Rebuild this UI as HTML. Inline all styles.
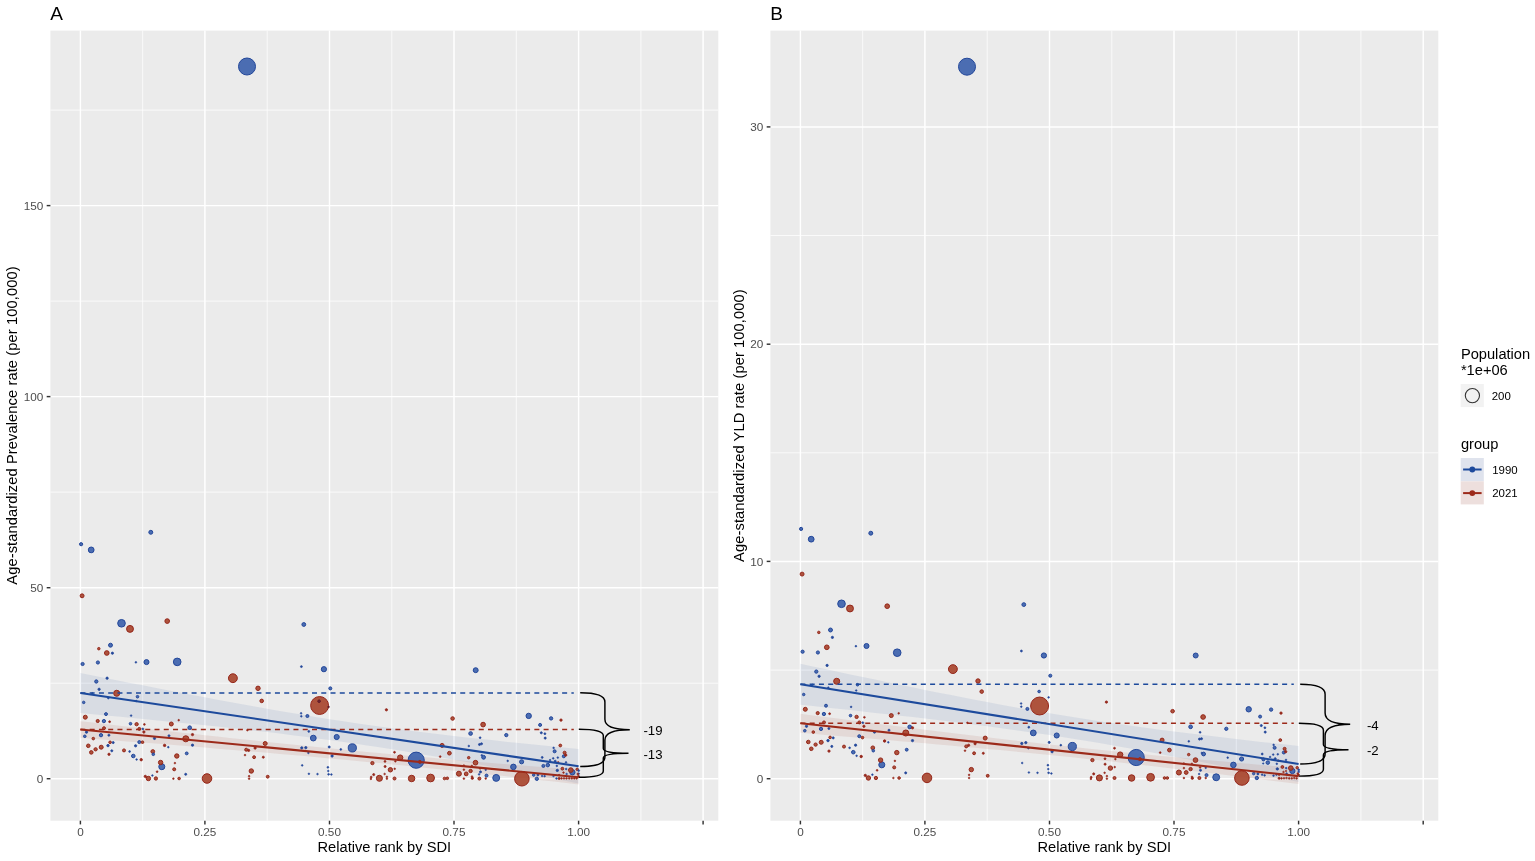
<!DOCTYPE html><html><head><meta charset="utf-8"><title>Figure</title>
<style>html,body{margin:0;padding:0;background:#fff}svg{display:block}text{font-family:"Liberation Sans",Arial,sans-serif}</style></head><body>
<svg width="1535" height="861" viewBox="0 0 1535 861">
<rect width="1535" height="861" fill="#fff"/>
<g>
<rect x="50.4" y="30.6" width="667.9" height="790.1" fill="#ebebeb"/>
<line x1="142.7" x2="142.7" y1="30.6" y2="820.7" stroke="#fff" stroke-width="0.75"/>
<line x1="267.2" x2="267.2" y1="30.6" y2="820.7" stroke="#fff" stroke-width="0.75"/>
<line x1="391.8" x2="391.8" y1="30.6" y2="820.7" stroke="#fff" stroke-width="0.75"/>
<line x1="516.3" x2="516.3" y1="30.6" y2="820.7" stroke="#fff" stroke-width="0.75"/>
<line x1="640.9" x2="640.9" y1="30.6" y2="820.7" stroke="#fff" stroke-width="0.75"/>
<line x1="50.4" x2="718.3" y1="683.2" y2="683.2" stroke="#fff" stroke-width="0.75"/>
<line x1="50.4" x2="718.3" y1="492.1" y2="492.1" stroke="#fff" stroke-width="0.75"/>
<line x1="50.4" x2="718.3" y1="301.1" y2="301.1" stroke="#fff" stroke-width="0.75"/>
<line x1="50.4" x2="718.3" y1="110.1" y2="110.1" stroke="#fff" stroke-width="0.75"/>
<line x1="80.4" x2="80.4" y1="30.6" y2="820.7" stroke="#fff" stroke-width="1.45"/>
<line x1="204.9" x2="204.9" y1="30.6" y2="820.7" stroke="#fff" stroke-width="1.45"/>
<line x1="329.5" x2="329.5" y1="30.6" y2="820.7" stroke="#fff" stroke-width="1.45"/>
<line x1="454.0" x2="454.0" y1="30.6" y2="820.7" stroke="#fff" stroke-width="1.45"/>
<line x1="578.6" x2="578.6" y1="30.6" y2="820.7" stroke="#fff" stroke-width="1.45"/>
<line x1="703.1" x2="703.1" y1="30.6" y2="820.7" stroke="#fff" stroke-width="1.45"/>
<line x1="50.4" x2="718.3" y1="778.7" y2="778.7" stroke="#fff" stroke-width="1.45"/>
<line x1="50.4" x2="718.3" y1="587.7" y2="587.7" stroke="#fff" stroke-width="1.45"/>
<line x1="50.4" x2="718.3" y1="396.6" y2="396.6" stroke="#fff" stroke-width="1.45"/>
<line x1="50.4" x2="718.3" y1="205.6" y2="205.6" stroke="#fff" stroke-width="1.45"/>
<path d="M80.4,673.0 L92.9,675.5 L105.3,678.0 L117.8,680.4 L130.2,682.9 L142.7,685.3 L155.1,687.8 L167.6,690.2 L180.0,692.6 L192.5,695.0 L204.9,697.3 L217.4,699.7 L229.9,702.0 L242.3,704.3 L254.8,706.5 L267.2,708.8 L279.7,710.9 L292.1,713.1 L304.6,715.1 L317.0,717.2 L329.5,719.2 L342.0,721.1 L354.4,723.0 L366.9,724.8 L379.3,726.5 L391.8,728.2 L404.2,729.9 L416.7,731.5 L429.1,733.0 L441.6,734.5 L454.0,736.0 L466.5,737.4 L479.0,738.8 L491.4,740.1 L503.9,741.5 L516.3,742.8 L528.8,744.0 L541.2,745.3 L553.7,746.6 L566.1,747.8 L578.6,749.0 L578.6,783.4 L566.1,781.0 L553.7,778.5 L541.2,776.1 L528.8,773.7 L516.3,771.3 L503.9,769.0 L491.4,766.7 L479.0,764.4 L466.5,762.1 L454.0,759.8 L441.6,757.6 L429.1,755.5 L416.7,753.4 L404.2,751.3 L391.8,749.3 L379.3,747.3 L366.9,745.4 L354.4,743.6 L342.0,741.8 L329.5,740.0 L317.0,738.4 L304.6,736.7 L292.1,735.2 L279.7,733.6 L267.2,732.1 L254.8,730.7 L242.3,729.3 L229.9,727.9 L217.4,726.6 L204.9,725.3 L192.5,724.0 L180.0,722.7 L167.6,721.4 L155.1,720.2 L142.7,719.0 L130.2,717.7 L117.8,716.5 L105.3,715.4 L92.9,714.2 L80.4,713.0Z" fill="#1d4a9c" fill-opacity="0.09"/>
<path d="M80.4,721.2 L92.9,722.6 L105.3,724.0 L117.8,725.5 L130.2,726.9 L142.7,728.3 L155.1,729.7 L167.6,731.1 L180.0,732.5 L192.5,733.8 L204.9,735.2 L217.4,736.6 L229.9,737.9 L242.3,739.3 L254.8,740.6 L267.2,741.9 L279.7,743.2 L292.1,744.5 L304.6,745.8 L317.0,747.1 L329.5,748.3 L342.0,749.5 L354.4,750.7 L366.9,751.9 L379.3,753.1 L391.8,754.3 L404.2,755.4 L416.7,756.5 L429.1,757.6 L441.6,758.7 L454.0,759.8 L466.5,760.9 L479.0,761.9 L491.4,763.0 L503.9,764.0 L516.3,765.0 L528.8,766.0 L541.2,767.0 L553.7,768.0 L566.1,769.0 L578.6,770.0 L578.6,784.4 L566.1,783.0 L553.7,781.6 L541.2,780.2 L528.8,778.8 L516.3,777.5 L503.9,776.1 L491.4,774.7 L479.0,773.4 L466.5,772.1 L454.0,770.7 L441.6,769.4 L429.1,768.2 L416.7,766.9 L404.2,765.6 L391.8,764.4 L379.3,763.1 L366.9,761.9 L354.4,760.7 L342.0,759.6 L329.5,758.4 L317.0,757.3 L304.6,756.1 L292.1,755.0 L279.7,753.9 L267.2,752.8 L254.8,751.8 L242.3,750.7 L229.9,749.7 L217.4,748.7 L204.9,747.6 L192.5,746.6 L180.0,745.6 L167.6,744.6 L155.1,743.6 L142.7,742.6 L130.2,741.7 L117.8,740.7 L105.3,739.7 L92.9,738.8 L80.4,737.8Z" fill="#9c2a1a" fill-opacity="0.09"/>
<g>
<circle cx="319.6" cy="705.5" r="8.96" fill="#a8452e" fill-opacity="0.92" stroke="#95261a" stroke-width="1.00"/>
<circle cx="247.0" cy="66.5" r="8.50" fill="#3d62ad" fill-opacity="0.92" stroke="#23479a" stroke-width="1.00"/>
<circle cx="416.2" cy="760.2" r="8.09" fill="#3d62ad" fill-opacity="0.92" stroke="#23479a" stroke-width="1.00"/>
<circle cx="521.9" cy="778.7" r="7.30" fill="#a8452e" fill-opacity="0.92" stroke="#95261a" stroke-width="1.00"/>
<circle cx="207.0" cy="778.5" r="4.78" fill="#a8452e" fill-opacity="0.92" stroke="#95261a" stroke-width="1.00"/>
<circle cx="232.9" cy="678.2" r="4.43" fill="#a8452e" fill-opacity="0.92" stroke="#95261a" stroke-width="1.00"/>
<circle cx="352.3" cy="747.9" r="4.08" fill="#3d62ad" fill-opacity="0.92" stroke="#23479a" stroke-width="1.00"/>
<circle cx="430.6" cy="778.0" r="3.87" fill="#a8452e" fill-opacity="0.92" stroke="#95261a" stroke-width="1.00"/>
<circle cx="121.5" cy="623.3" r="3.82" fill="#3d62ad" fill-opacity="0.92" stroke="#23479a" stroke-width="1.00"/>
<circle cx="177.2" cy="661.9" r="3.82" fill="#3d62ad" fill-opacity="0.92" stroke="#23479a" stroke-width="1.00"/>
<circle cx="130.0" cy="628.9" r="3.45" fill="#a8452e" fill-opacity="0.92" stroke="#95261a" stroke-width="1.00"/>
<circle cx="496.2" cy="777.9" r="3.45" fill="#3d62ad" fill-opacity="0.92" stroke="#23479a" stroke-width="1.00"/>
<circle cx="411.6" cy="778.5" r="3.24" fill="#a8452e" fill-opacity="0.92" stroke="#95261a" stroke-width="1.00"/>
<circle cx="116.7" cy="693.3" r="3.03" fill="#a8452e" fill-opacity="0.92" stroke="#95261a" stroke-width="1.00"/>
<circle cx="161.8" cy="766.7" r="3.03" fill="#3d62ad" fill-opacity="0.92" stroke="#23479a" stroke-width="1.00"/>
<circle cx="185.8" cy="738.8" r="3.03" fill="#a8452e" fill-opacity="0.92" stroke="#95261a" stroke-width="1.00"/>
<circle cx="379.4" cy="778.3" r="3.03" fill="#a8452e" fill-opacity="0.92" stroke="#95261a" stroke-width="1.00"/>
<circle cx="91.2" cy="549.9" r="2.89" fill="#3d62ad" fill-opacity="0.92" stroke="#23479a" stroke-width="1.00"/>
<circle cx="313.3" cy="738.1" r="2.89" fill="#3d62ad" fill-opacity="0.92" stroke="#23479a" stroke-width="1.00"/>
<circle cx="513.4" cy="766.9" r="2.78" fill="#3d62ad" fill-opacity="0.92" stroke="#23479a" stroke-width="1.00"/>
<circle cx="400.2" cy="757.6" r="2.69" fill="#a8452e" fill-opacity="0.92" stroke="#95261a" stroke-width="1.00"/>
<circle cx="528.7" cy="715.9" r="2.69" fill="#3d62ad" fill-opacity="0.92" stroke="#23479a" stroke-width="1.00"/>
<circle cx="572.4" cy="772.3" r="2.62" fill="#3d62ad" fill-opacity="0.92" stroke="#23479a" stroke-width="1.00"/>
<circle cx="323.9" cy="669.2" r="2.60" fill="#3d62ad" fill-opacity="0.92" stroke="#23479a" stroke-width="1.00"/>
<circle cx="336.7" cy="737.0" r="2.55" fill="#3d62ad" fill-opacity="0.92" stroke="#23479a" stroke-width="1.00"/>
<circle cx="146.5" cy="662.1" r="2.52" fill="#3d62ad" fill-opacity="0.92" stroke="#23479a" stroke-width="1.00"/>
<circle cx="458.9" cy="773.7" r="2.50" fill="#a8452e" fill-opacity="0.92" stroke="#95261a" stroke-width="1.00"/>
<circle cx="475.7" cy="670.2" r="2.48" fill="#3d62ad" fill-opacity="0.92" stroke="#23479a" stroke-width="1.00"/>
<circle cx="167.2" cy="621.1" r="2.34" fill="#a8452e" fill-opacity="0.92" stroke="#95261a" stroke-width="1.00"/>
<circle cx="106.8" cy="653.0" r="2.34" fill="#a8452e" fill-opacity="0.92" stroke="#95261a" stroke-width="1.00"/>
<circle cx="483.1" cy="724.6" r="2.34" fill="#a8452e" fill-opacity="0.92" stroke="#95261a" stroke-width="1.00"/>
<circle cx="475.5" cy="762.7" r="2.34" fill="#a8452e" fill-opacity="0.92" stroke="#95261a" stroke-width="1.00"/>
<circle cx="570.8" cy="770.1" r="2.34" fill="#a8452e" fill-opacity="0.92" stroke="#95261a" stroke-width="1.00"/>
<circle cx="160.6" cy="762.5" r="2.20" fill="#a8452e" fill-opacity="0.92" stroke="#95261a" stroke-width="1.00"/>
<circle cx="148.4" cy="778.5" r="2.20" fill="#a8452e" fill-opacity="0.92" stroke="#95261a" stroke-width="1.00"/>
<circle cx="258.0" cy="688.3" r="2.20" fill="#a8452e" fill-opacity="0.92" stroke="#95261a" stroke-width="1.00"/>
<circle cx="176.8" cy="756.0" r="2.20" fill="#a8452e" fill-opacity="0.92" stroke="#95261a" stroke-width="1.00"/>
<circle cx="251.3" cy="771.0" r="2.20" fill="#a8452e" fill-opacity="0.92" stroke="#95261a" stroke-width="1.00"/>
<circle cx="390.4" cy="769.8" r="2.20" fill="#a8452e" fill-opacity="0.92" stroke="#95261a" stroke-width="1.00"/>
<circle cx="521.6" cy="761.8" r="2.06" fill="#3d62ad" fill-opacity="0.92" stroke="#23479a" stroke-width="1.00"/>
<circle cx="85.3" cy="717.2" r="1.99" fill="#a8452e" fill-opacity="0.92" stroke="#95261a" stroke-width="1.00"/>
<circle cx="101.2" cy="747.2" r="1.99" fill="#a8452e" fill-opacity="0.92" stroke="#95261a" stroke-width="1.00"/>
<circle cx="171.3" cy="724.0" r="1.99" fill="#a8452e" fill-opacity="0.92" stroke="#95261a" stroke-width="1.00"/>
<circle cx="265.2" cy="743.5" r="1.99" fill="#a8452e" fill-opacity="0.92" stroke="#95261a" stroke-width="1.00"/>
<circle cx="442.1" cy="745.4" r="1.99" fill="#a8452e" fill-opacity="0.92" stroke="#95261a" stroke-width="1.00"/>
<circle cx="150.8" cy="532.3" r="1.97" fill="#3d62ad" fill-opacity="0.92" stroke="#23479a" stroke-width="1.00"/>
<circle cx="82.1" cy="595.8" r="1.97" fill="#a8452e" fill-opacity="0.92" stroke="#95261a" stroke-width="1.00"/>
<circle cx="110.5" cy="645.2" r="1.97" fill="#3d62ad" fill-opacity="0.92" stroke="#23479a" stroke-width="1.00"/>
<circle cx="303.8" cy="624.5" r="1.90" fill="#3d62ad" fill-opacity="0.92" stroke="#23479a" stroke-width="1.00"/>
<circle cx="483.6" cy="757.3" r="1.89" fill="#3d62ad" fill-opacity="0.92" stroke="#23479a" stroke-width="1.00"/>
<circle cx="466.2" cy="773.9" r="1.89" fill="#a8452e" fill-opacity="0.92" stroke="#95261a" stroke-width="1.00"/>
<circle cx="152.8" cy="751.5" r="1.85" fill="#a8452e" fill-opacity="0.92" stroke="#95261a" stroke-width="1.00"/>
<circle cx="189.7" cy="727.7" r="1.85" fill="#3d62ad" fill-opacity="0.92" stroke="#23479a" stroke-width="1.00"/>
<circle cx="449.4" cy="753.2" r="1.85" fill="#a8452e" fill-opacity="0.92" stroke="#95261a" stroke-width="1.00"/>
<circle cx="470.6" cy="733.5" r="1.85" fill="#3d62ad" fill-opacity="0.92" stroke="#23479a" stroke-width="1.00"/>
<circle cx="88.3" cy="745.8" r="1.78" fill="#a8452e" fill-opacity="0.92" stroke="#95261a" stroke-width="1.00"/>
<circle cx="91.3" cy="752.4" r="1.78" fill="#a8452e" fill-opacity="0.92" stroke="#95261a" stroke-width="1.00"/>
<circle cx="133.3" cy="756.0" r="1.78" fill="#3d62ad" fill-opacity="0.92" stroke="#23479a" stroke-width="1.00"/>
<circle cx="261.7" cy="700.9" r="1.78" fill="#a8452e" fill-opacity="0.92" stroke="#95261a" stroke-width="1.00"/>
<circle cx="452.6" cy="718.5" r="1.78" fill="#a8452e" fill-opacity="0.92" stroke="#95261a" stroke-width="1.00"/>
<circle cx="547.8" cy="765.1" r="1.78" fill="#3d62ad" fill-opacity="0.92" stroke="#23479a" stroke-width="1.00"/>
<circle cx="470.6" cy="771.0" r="1.67" fill="#a8452e" fill-opacity="0.92" stroke="#95261a" stroke-width="1.00"/>
<circle cx="536.8" cy="778.8" r="1.67" fill="#3d62ad" fill-opacity="0.92" stroke="#23479a" stroke-width="1.00"/>
<circle cx="551.1" cy="718.4" r="1.67" fill="#3d62ad" fill-opacity="0.92" stroke="#23479a" stroke-width="1.00"/>
<circle cx="96.3" cy="681.5" r="1.64" fill="#3d62ad" fill-opacity="0.92" stroke="#23479a" stroke-width="1.00"/>
<circle cx="103.9" cy="721.1" r="1.64" fill="#3d62ad" fill-opacity="0.92" stroke="#23479a" stroke-width="1.00"/>
<circle cx="136.6" cy="724.2" r="1.64" fill="#a8452e" fill-opacity="0.92" stroke="#95261a" stroke-width="1.00"/>
<circle cx="101.0" cy="735.2" r="1.64" fill="#3d62ad" fill-opacity="0.92" stroke="#23479a" stroke-width="1.00"/>
<circle cx="95.6" cy="749.3" r="1.64" fill="#a8452e" fill-opacity="0.92" stroke="#95261a" stroke-width="1.00"/>
<circle cx="155.9" cy="778.5" r="1.64" fill="#a8452e" fill-opacity="0.92" stroke="#95261a" stroke-width="1.00"/>
<circle cx="372.4" cy="763.1" r="1.64" fill="#a8452e" fill-opacity="0.92" stroke="#95261a" stroke-width="1.00"/>
<circle cx="506.3" cy="735.1" r="1.64" fill="#3d62ad" fill-opacity="0.92" stroke="#23479a" stroke-width="1.00"/>
<circle cx="81.1" cy="544.2" r="1.59" fill="#3d62ad" fill-opacity="0.92" stroke="#23479a" stroke-width="1.00"/>
<circle cx="82.6" cy="664.0" r="1.59" fill="#3d62ad" fill-opacity="0.92" stroke="#23479a" stroke-width="1.00"/>
<circle cx="97.9" cy="662.5" r="1.59" fill="#3d62ad" fill-opacity="0.92" stroke="#23479a" stroke-width="1.00"/>
<circle cx="97.7" cy="721.0" r="1.57" fill="#a8452e" fill-opacity="0.92" stroke="#95261a" stroke-width="1.00"/>
<circle cx="330.3" cy="688.4" r="1.54" fill="#3d62ad" fill-opacity="0.92" stroke="#23479a" stroke-width="1.00"/>
<circle cx="124.0" cy="750.4" r="1.50" fill="#a8452e" fill-opacity="0.92" stroke="#95261a" stroke-width="1.00"/>
<circle cx="139.3" cy="742.1" r="1.50" fill="#3d62ad" fill-opacity="0.92" stroke="#23479a" stroke-width="1.00"/>
<circle cx="174.2" cy="769.3" r="1.50" fill="#a8452e" fill-opacity="0.92" stroke="#95261a" stroke-width="1.00"/>
<circle cx="246.2" cy="749.7" r="1.50" fill="#a8452e" fill-opacity="0.92" stroke="#95261a" stroke-width="1.00"/>
<circle cx="307.4" cy="716.0" r="1.50" fill="#3d62ad" fill-opacity="0.92" stroke="#23479a" stroke-width="1.00"/>
<circle cx="419.8" cy="761.9" r="1.50" fill="#a8452e" fill-opacity="0.92" stroke="#95261a" stroke-width="1.00"/>
<circle cx="394.5" cy="778.5" r="1.50" fill="#a8452e" fill-opacity="0.92" stroke="#95261a" stroke-width="1.00"/>
<circle cx="540.1" cy="724.9" r="1.50" fill="#3d62ad" fill-opacity="0.92" stroke="#23479a" stroke-width="1.00"/>
<circle cx="486.5" cy="775.6" r="1.50" fill="#3d62ad" fill-opacity="0.92" stroke="#23479a" stroke-width="1.00"/>
<circle cx="479.4" cy="778.6" r="1.50" fill="#a8452e" fill-opacity="0.92" stroke="#95261a" stroke-width="1.00"/>
<circle cx="554.6" cy="751.3" r="1.50" fill="#3d62ad" fill-opacity="0.92" stroke="#23479a" stroke-width="1.00"/>
<circle cx="564.6" cy="752.7" r="1.50" fill="#a8452e" fill-opacity="0.92" stroke="#95261a" stroke-width="1.00"/>
<circle cx="563.8" cy="756.3" r="1.50" fill="#3d62ad" fill-opacity="0.92" stroke="#23479a" stroke-width="1.00"/>
<circle cx="543.4" cy="765.9" r="1.50" fill="#3d62ad" fill-opacity="0.92" stroke="#23479a" stroke-width="1.00"/>
<circle cx="106.0" cy="714.1" r="1.47" fill="#3d62ad" fill-opacity="0.92" stroke="#23479a" stroke-width="1.00"/>
<circle cx="104.0" cy="728.2" r="1.47" fill="#a8452e" fill-opacity="0.92" stroke="#95261a" stroke-width="1.00"/>
<circle cx="139.3" cy="728.9" r="1.47" fill="#a8452e" fill-opacity="0.92" stroke="#95261a" stroke-width="1.00"/>
<circle cx="186.7" cy="753.4" r="1.43" fill="#3d62ad" fill-opacity="0.92" stroke="#23479a" stroke-width="1.00"/>
<circle cx="254.1" cy="757.2" r="1.43" fill="#a8452e" fill-opacity="0.92" stroke="#95261a" stroke-width="1.00"/>
<circle cx="267.7" cy="776.7" r="1.43" fill="#a8452e" fill-opacity="0.92" stroke="#95261a" stroke-width="1.00"/>
<circle cx="560.3" cy="745.5" r="1.39" fill="#a8452e" fill-opacity="0.92" stroke="#95261a" stroke-width="1.00"/>
<circle cx="562.4" cy="768.7" r="1.39" fill="#a8452e" fill-opacity="0.92" stroke="#95261a" stroke-width="1.00"/>
<circle cx="137.5" cy="696.7" r="1.30" fill="#3d62ad" fill-opacity="0.92" stroke="#23479a" stroke-width="0.98"/>
<circle cx="130.5" cy="723.7" r="1.30" fill="#3d62ad" fill-opacity="0.92" stroke="#23479a" stroke-width="0.98"/>
<circle cx="84.8" cy="736.3" r="1.30" fill="#3d62ad" fill-opacity="0.92" stroke="#23479a" stroke-width="0.98"/>
<circle cx="93.3" cy="738.6" r="1.30" fill="#a8452e" fill-opacity="0.92" stroke="#95261a" stroke-width="0.98"/>
<circle cx="110.1" cy="742.3" r="1.30" fill="#a8452e" fill-opacity="0.92" stroke="#95261a" stroke-width="0.98"/>
<circle cx="142.5" cy="742.2" r="1.30" fill="#a8452e" fill-opacity="0.92" stroke="#95261a" stroke-width="0.98"/>
<circle cx="153.3" cy="754.3" r="1.30" fill="#3d62ad" fill-opacity="0.92" stroke="#23479a" stroke-width="0.98"/>
<circle cx="179.1" cy="778.5" r="1.30" fill="#a8452e" fill-opacity="0.92" stroke="#95261a" stroke-width="0.98"/>
<circle cx="319.1" cy="701.2" r="1.30" fill="#6e2230" fill-opacity="0.92" stroke="#5e1a28" stroke-width="0.98"/>
<circle cx="444.5" cy="778.5" r="1.30" fill="#a8452e" fill-opacity="0.92" stroke="#95261a" stroke-width="0.98"/>
<circle cx="447.3" cy="778.3" r="1.30" fill="#a8452e" fill-opacity="0.92" stroke="#95261a" stroke-width="0.98"/>
<circle cx="98.8" cy="648.7" r="1.25" fill="#a8452e" fill-opacity="0.92" stroke="#95261a" stroke-width="0.95"/>
<circle cx="83.7" cy="702.4" r="1.25" fill="#3d62ad" fill-opacity="0.92" stroke="#23479a" stroke-width="0.95"/>
<circle cx="468.7" cy="757.7" r="1.25" fill="#a8452e" fill-opacity="0.92" stroke="#95261a" stroke-width="0.95"/>
<circle cx="577.2" cy="769.3" r="1.25" fill="#a8452e" fill-opacity="0.92" stroke="#95261a" stroke-width="0.95"/>
<circle cx="533.7" cy="775.1" r="1.25" fill="#3d62ad" fill-opacity="0.92" stroke="#23479a" stroke-width="0.95"/>
<circle cx="108.0" cy="745.6" r="1.20" fill="#23479a" fill-opacity="1" stroke="#23479a" stroke-width="0.91"/>
<circle cx="141.2" cy="759.7" r="1.20" fill="#95261a" fill-opacity="1" stroke="#95261a" stroke-width="0.91"/>
<circle cx="164.6" cy="745.4" r="1.20" fill="#95261a" fill-opacity="1" stroke="#95261a" stroke-width="0.91"/>
<circle cx="472.3" cy="778.2" r="1.17" fill="#95261a" fill-opacity="1" stroke="#95261a" stroke-width="0.89"/>
<circle cx="565.7" cy="755.1" r="1.17" fill="#95261a" fill-opacity="1" stroke="#95261a" stroke-width="0.89"/>
<circle cx="557.3" cy="770.4" r="1.17" fill="#23479a" fill-opacity="1" stroke="#23479a" stroke-width="0.89"/>
<circle cx="561.0" cy="720.1" r="1.17" fill="#95261a" fill-opacity="1" stroke="#95261a" stroke-width="0.89"/>
<circle cx="107.1" cy="678.2" r="1.15" fill="#23479a" fill-opacity="1" stroke="#23479a" stroke-width="0.87"/>
<circle cx="99.1" cy="689.3" r="1.15" fill="#23479a" fill-opacity="1" stroke="#23479a" stroke-width="0.87"/>
<circle cx="86.5" cy="732.2" r="1.15" fill="#23479a" fill-opacity="1" stroke="#23479a" stroke-width="0.87"/>
<circle cx="143.9" cy="732.0" r="1.15" fill="#95261a" fill-opacity="1" stroke="#95261a" stroke-width="0.87"/>
<circle cx="154.5" cy="738.4" r="1.15" fill="#23479a" fill-opacity="1" stroke="#23479a" stroke-width="0.87"/>
<circle cx="109.0" cy="754.3" r="1.15" fill="#95261a" fill-opacity="1" stroke="#95261a" stroke-width="0.87"/>
<circle cx="135.6" cy="745.8" r="1.15" fill="#23479a" fill-opacity="1" stroke="#23479a" stroke-width="0.87"/>
<circle cx="145.3" cy="776.4" r="1.15" fill="#95261a" fill-opacity="1" stroke="#95261a" stroke-width="0.87"/>
<circle cx="192.5" cy="734.6" r="1.15" fill="#95261a" fill-opacity="1" stroke="#95261a" stroke-width="0.87"/>
<circle cx="192.5" cy="745.2" r="1.15" fill="#23479a" fill-opacity="1" stroke="#23479a" stroke-width="0.87"/>
<circle cx="248.6" cy="750.4" r="1.15" fill="#95261a" fill-opacity="1" stroke="#95261a" stroke-width="0.87"/>
<circle cx="255.1" cy="748.0" r="1.15" fill="#95261a" fill-opacity="1" stroke="#95261a" stroke-width="0.87"/>
<circle cx="301.8" cy="747.9" r="1.15" fill="#23479a" fill-opacity="1" stroke="#23479a" stroke-width="0.87"/>
<circle cx="305.8" cy="747.7" r="1.15" fill="#23479a" fill-opacity="1" stroke="#23479a" stroke-width="0.87"/>
<circle cx="332.1" cy="756.0" r="1.15" fill="#23479a" fill-opacity="1" stroke="#23479a" stroke-width="0.87"/>
<circle cx="386.4" cy="709.8" r="1.15" fill="#95261a" fill-opacity="1" stroke="#95261a" stroke-width="0.87"/>
<circle cx="112.4" cy="653.2" r="1.12" fill="#23479a" fill-opacity="1" stroke="#23479a" stroke-width="0.85"/>
<circle cx="108.9" cy="735.2" r="1.04" fill="#23479a" fill-opacity="1" stroke="#23479a" stroke-width="0.79"/>
<circle cx="169.0" cy="735.8" r="1.04" fill="#23479a" fill-opacity="1" stroke="#23479a" stroke-width="0.79"/>
<circle cx="113.2" cy="742.6" r="1.04" fill="#23479a" fill-opacity="1" stroke="#23479a" stroke-width="0.79"/>
<circle cx="111.8" cy="750.8" r="1.04" fill="#23479a" fill-opacity="1" stroke="#23479a" stroke-width="0.79"/>
<circle cx="185.7" cy="774.3" r="1.04" fill="#23479a" fill-opacity="1" stroke="#23479a" stroke-width="0.79"/>
<circle cx="263.3" cy="757.2" r="1.04" fill="#95261a" fill-opacity="1" stroke="#95261a" stroke-width="0.79"/>
<circle cx="329.2" cy="747.0" r="1.04" fill="#23479a" fill-opacity="1" stroke="#23479a" stroke-width="0.79"/>
<circle cx="385.1" cy="766.5" r="1.04" fill="#95261a" fill-opacity="1" stroke="#95261a" stroke-width="0.79"/>
<circle cx="373.7" cy="774.6" r="1.04" fill="#95261a" fill-opacity="1" stroke="#95261a" stroke-width="0.79"/>
<circle cx="541.3" cy="732.8" r="1.04" fill="#23479a" fill-opacity="1" stroke="#23479a" stroke-width="0.79"/>
<circle cx="479.5" cy="744.5" r="1.04" fill="#23479a" fill-opacity="1" stroke="#23479a" stroke-width="0.79"/>
<circle cx="481.5" cy="743.8" r="1.04" fill="#23479a" fill-opacity="1" stroke="#23479a" stroke-width="0.79"/>
<circle cx="480.5" cy="771.9" r="1.04" fill="#23479a" fill-opacity="1" stroke="#23479a" stroke-width="0.79"/>
<circle cx="545.2" cy="738.1" r="1.04" fill="#23479a" fill-opacity="1" stroke="#23479a" stroke-width="0.79"/>
<circle cx="555.2" cy="761.2" r="1.04" fill="#23479a" fill-opacity="1" stroke="#23479a" stroke-width="0.79"/>
<circle cx="537.9" cy="774.9" r="1.04" fill="#23479a" fill-opacity="1" stroke="#23479a" stroke-width="0.79"/>
<circle cx="559.1" cy="778.5" r="1.04" fill="#95261a" fill-opacity="1" stroke="#95261a" stroke-width="0.79"/>
<circle cx="301.4" cy="666.6" r="0.97" fill="#23479a" fill-opacity="1" stroke="#23479a" stroke-width="0.74"/>
<circle cx="542.2" cy="757.4" r="0.96" fill="#23479a" fill-opacity="1" stroke="#23479a" stroke-width="0.73"/>
<circle cx="109.6" cy="721.7" r="0.94" fill="#95261a" fill-opacity="1" stroke="#95261a" stroke-width="0.72"/>
<circle cx="308.8" cy="731.4" r="0.94" fill="#23479a" fill-opacity="1" stroke="#23479a" stroke-width="0.72"/>
<circle cx="394.5" cy="752.3" r="0.94" fill="#95261a" fill-opacity="1" stroke="#95261a" stroke-width="0.72"/>
<circle cx="385.0" cy="761.4" r="0.94" fill="#95261a" fill-opacity="1" stroke="#95261a" stroke-width="0.72"/>
<circle cx="371.2" cy="777.1" r="0.94" fill="#95261a" fill-opacity="1" stroke="#95261a" stroke-width="0.72"/>
<circle cx="544.9" cy="733.7" r="0.94" fill="#23479a" fill-opacity="1" stroke="#23479a" stroke-width="0.72"/>
<circle cx="578.7" cy="770.6" r="0.94" fill="#23479a" fill-opacity="1" stroke="#23479a" stroke-width="0.72"/>
<circle cx="578.5" cy="776.3" r="0.94" fill="#95261a" fill-opacity="1" stroke="#95261a" stroke-width="0.72"/>
<circle cx="142.8" cy="728.9" r="0.92" fill="#23479a" fill-opacity="1" stroke="#23479a" stroke-width="0.70"/>
<circle cx="144.4" cy="724.4" r="0.89" fill="#95261a" fill-opacity="1" stroke="#95261a" stroke-width="0.68"/>
<circle cx="129.6" cy="751.5" r="0.89" fill="#23479a" fill-opacity="1" stroke="#23479a" stroke-width="0.68"/>
<circle cx="157.1" cy="771.7" r="0.89" fill="#95261a" fill-opacity="1" stroke="#95261a" stroke-width="0.68"/>
<circle cx="340.8" cy="749.4" r="0.89" fill="#23479a" fill-opacity="1" stroke="#23479a" stroke-width="0.68"/>
<circle cx="327.9" cy="767.3" r="0.89" fill="#23479a" fill-opacity="1" stroke="#23479a" stroke-width="0.68"/>
<circle cx="328.6" cy="774.3" r="0.89" fill="#23479a" fill-opacity="1" stroke="#23479a" stroke-width="0.68"/>
<circle cx="440.2" cy="756.6" r="0.89" fill="#95261a" fill-opacity="1" stroke="#95261a" stroke-width="0.68"/>
<circle cx="480.1" cy="737.7" r="0.89" fill="#23479a" fill-opacity="1" stroke="#23479a" stroke-width="0.68"/>
<circle cx="578.7" cy="773.6" r="0.87" fill="#23479a" fill-opacity="1" stroke="#23479a" stroke-width="0.66"/>
<circle cx="135.9" cy="662.3" r="0.84" fill="#23479a" fill-opacity="1" stroke="#23479a" stroke-width="0.64"/>
<circle cx="468.8" cy="746.0" r="0.84" fill="#23479a" fill-opacity="1" stroke="#23479a" stroke-width="0.64"/>
<circle cx="463.9" cy="765.5" r="0.84" fill="#95261a" fill-opacity="1" stroke="#95261a" stroke-width="0.64"/>
<circle cx="471.9" cy="765.9" r="0.84" fill="#95261a" fill-opacity="1" stroke="#95261a" stroke-width="0.64"/>
<circle cx="480.1" cy="768.4" r="0.84" fill="#95261a" fill-opacity="1" stroke="#95261a" stroke-width="0.64"/>
<circle cx="463.9" cy="778.6" r="0.84" fill="#95261a" fill-opacity="1" stroke="#95261a" stroke-width="0.64"/>
<circle cx="485.7" cy="778.5" r="0.84" fill="#95261a" fill-opacity="1" stroke="#95261a" stroke-width="0.64"/>
<circle cx="566.2" cy="769.0" r="0.84" fill="#23479a" fill-opacity="1" stroke="#23479a" stroke-width="0.64"/>
<circle cx="559.1" cy="775.1" r="0.84" fill="#95261a" fill-opacity="1" stroke="#95261a" stroke-width="0.64"/>
<circle cx="577.7" cy="774.0" r="0.84" fill="#95261a" fill-opacity="1" stroke="#95261a" stroke-width="0.64"/>
<circle cx="108.3" cy="698.2" r="0.83" fill="#23479a" fill-opacity="1" stroke="#23479a" stroke-width="0.63"/>
<circle cx="136.2" cy="701.0" r="0.83" fill="#23479a" fill-opacity="1" stroke="#23479a" stroke-width="0.63"/>
<circle cx="92.3" cy="693.3" r="0.83" fill="#23479a" fill-opacity="1" stroke="#23479a" stroke-width="0.63"/>
<circle cx="131.1" cy="715.6" r="0.83" fill="#23479a" fill-opacity="1" stroke="#23479a" stroke-width="0.63"/>
<circle cx="136.6" cy="759.5" r="0.83" fill="#23479a" fill-opacity="1" stroke="#23479a" stroke-width="0.63"/>
<circle cx="168.3" cy="747.2" r="0.83" fill="#23479a" fill-opacity="1" stroke="#23479a" stroke-width="0.63"/>
<circle cx="152.4" cy="775.5" r="0.83" fill="#23479a" fill-opacity="1" stroke="#23479a" stroke-width="0.63"/>
<circle cx="178.7" cy="720.2" r="0.83" fill="#95261a" fill-opacity="1" stroke="#95261a" stroke-width="0.63"/>
<circle cx="174.9" cy="763.1" r="0.83" fill="#95261a" fill-opacity="1" stroke="#95261a" stroke-width="0.63"/>
<circle cx="173.4" cy="778.7" r="0.83" fill="#95261a" fill-opacity="1" stroke="#95261a" stroke-width="0.63"/>
<circle cx="247.4" cy="730.2" r="0.83" fill="#95261a" fill-opacity="1" stroke="#95261a" stroke-width="0.63"/>
<circle cx="245.0" cy="755.1" r="0.83" fill="#95261a" fill-opacity="1" stroke="#95261a" stroke-width="0.63"/>
<circle cx="249.1" cy="776.2" r="0.83" fill="#95261a" fill-opacity="1" stroke="#95261a" stroke-width="0.63"/>
<circle cx="249.1" cy="778.7" r="0.83" fill="#95261a" fill-opacity="1" stroke="#95261a" stroke-width="0.63"/>
<circle cx="328.6" cy="706.9" r="0.83" fill="#5e1a28" fill-opacity="1" stroke="#5e1a28" stroke-width="0.63"/>
<circle cx="301.1" cy="713.3" r="0.83" fill="#23479a" fill-opacity="1" stroke="#23479a" stroke-width="0.63"/>
<circle cx="301.3" cy="716.3" r="0.83" fill="#23479a" fill-opacity="1" stroke="#23479a" stroke-width="0.63"/>
<circle cx="308.4" cy="752.9" r="0.83" fill="#23479a" fill-opacity="1" stroke="#23479a" stroke-width="0.63"/>
<circle cx="302.2" cy="765.4" r="0.83" fill="#23479a" fill-opacity="1" stroke="#23479a" stroke-width="0.63"/>
<circle cx="328.3" cy="771.0" r="0.83" fill="#23479a" fill-opacity="1" stroke="#23479a" stroke-width="0.63"/>
<circle cx="331.4" cy="774.5" r="0.83" fill="#23479a" fill-opacity="1" stroke="#23479a" stroke-width="0.63"/>
<circle cx="308.9" cy="773.8" r="0.83" fill="#23479a" fill-opacity="1" stroke="#23479a" stroke-width="0.63"/>
<circle cx="317.5" cy="774.1" r="0.83" fill="#23479a" fill-opacity="1" stroke="#23479a" stroke-width="0.63"/>
<circle cx="395.4" cy="761.3" r="0.83" fill="#95261a" fill-opacity="1" stroke="#95261a" stroke-width="0.63"/>
<circle cx="394.7" cy="768.8" r="0.83" fill="#95261a" fill-opacity="1" stroke="#95261a" stroke-width="0.63"/>
<circle cx="384.6" cy="774.0" r="0.83" fill="#95261a" fill-opacity="1" stroke="#95261a" stroke-width="0.63"/>
<circle cx="370.9" cy="778.9" r="0.83" fill="#95261a" fill-opacity="1" stroke="#95261a" stroke-width="0.63"/>
<circle cx="386.9" cy="776.8" r="0.83" fill="#95261a" fill-opacity="1" stroke="#95261a" stroke-width="0.63"/>
<circle cx="386.9" cy="778.7" r="0.83" fill="#95261a" fill-opacity="1" stroke="#95261a" stroke-width="0.63"/>
<circle cx="481.8" cy="755.3" r="0.83" fill="#23479a" fill-opacity="1" stroke="#23479a" stroke-width="0.63"/>
<circle cx="507.7" cy="760.9" r="0.83" fill="#23479a" fill-opacity="1" stroke="#23479a" stroke-width="0.63"/>
<circle cx="485.7" cy="769.8" r="0.83" fill="#23479a" fill-opacity="1" stroke="#23479a" stroke-width="0.63"/>
<circle cx="463.9" cy="769.7" r="0.83" fill="#95261a" fill-opacity="1" stroke="#95261a" stroke-width="0.63"/>
<circle cx="479.1" cy="774.4" r="0.83" fill="#23479a" fill-opacity="1" stroke="#23479a" stroke-width="0.63"/>
<circle cx="472.0" cy="776.5" r="0.83" fill="#95261a" fill-opacity="1" stroke="#95261a" stroke-width="0.63"/>
<circle cx="553.6" cy="747.9" r="0.83" fill="#23479a" fill-opacity="1" stroke="#23479a" stroke-width="0.63"/>
<circle cx="557.8" cy="757.6" r="0.83" fill="#23479a" fill-opacity="1" stroke="#23479a" stroke-width="0.63"/>
<circle cx="553.2" cy="758.4" r="0.83" fill="#23479a" fill-opacity="1" stroke="#23479a" stroke-width="0.63"/>
<circle cx="550.1" cy="760.1" r="0.83" fill="#23479a" fill-opacity="1" stroke="#23479a" stroke-width="0.63"/>
<circle cx="558.2" cy="762.3" r="0.83" fill="#95261a" fill-opacity="1" stroke="#95261a" stroke-width="0.63"/>
<circle cx="566.0" cy="762.4" r="0.83" fill="#23479a" fill-opacity="1" stroke="#23479a" stroke-width="0.63"/>
<circle cx="556.8" cy="765.9" r="0.83" fill="#23479a" fill-opacity="1" stroke="#23479a" stroke-width="0.63"/>
<circle cx="563.5" cy="772.6" r="0.83" fill="#95261a" fill-opacity="1" stroke="#95261a" stroke-width="0.63"/>
<circle cx="542.1" cy="776.0" r="0.83" fill="#23479a" fill-opacity="1" stroke="#23479a" stroke-width="0.63"/>
<circle cx="544.6" cy="776.2" r="0.83" fill="#23479a" fill-opacity="1" stroke="#23479a" stroke-width="0.63"/>
<circle cx="553.5" cy="776.0" r="0.83" fill="#23479a" fill-opacity="1" stroke="#23479a" stroke-width="0.63"/>
<circle cx="556.5" cy="778.5" r="0.83" fill="#23479a" fill-opacity="1" stroke="#23479a" stroke-width="0.63"/>
<circle cx="566.6" cy="774.0" r="0.83" fill="#23479a" fill-opacity="1" stroke="#23479a" stroke-width="0.63"/>
<circle cx="561.5" cy="778.4" r="0.83" fill="#95261a" fill-opacity="1" stroke="#95261a" stroke-width="0.63"/>
<circle cx="564.0" cy="778.4" r="0.83" fill="#95261a" fill-opacity="1" stroke="#95261a" stroke-width="0.63"/>
<circle cx="566.5" cy="778.4" r="0.83" fill="#95261a" fill-opacity="1" stroke="#95261a" stroke-width="0.63"/>
<circle cx="569.2" cy="778.4" r="0.83" fill="#95261a" fill-opacity="1" stroke="#95261a" stroke-width="0.63"/>
<circle cx="571.8" cy="778.4" r="0.83" fill="#95261a" fill-opacity="1" stroke="#95261a" stroke-width="0.63"/>
<circle cx="574.3" cy="778.4" r="0.83" fill="#95261a" fill-opacity="1" stroke="#95261a" stroke-width="0.63"/>
<circle cx="576.6" cy="778.4" r="0.83" fill="#95261a" fill-opacity="1" stroke="#95261a" stroke-width="0.63"/>
</g>
<line x1="80.4" x2="573.8" y1="693.0" y2="693.0" stroke="#1d4a9c" stroke-width="1.6" stroke-dasharray="5 4.264"/>
<line x1="80.4" x2="573.8" y1="729.5" y2="729.5" stroke="#9c2a1a" stroke-width="1.6" stroke-dasharray="5 4.264"/>
<line x1="80.4" x2="578.6" y1="693.0" y2="766.2" stroke="#1d4a9c" stroke-width="2.1"/>
<line x1="80.4" x2="578.6" y1="729.5" y2="777.2" stroke="#9c2a1a" stroke-width="2.1"/>
<path d="M580.2,692.8 C595.0,692.8 604.9,695.6 604.9,702.0 L604.9,719.2 C604.9,727.0 614.9,729.65 629.8,729.65 C614.9,729.65 604.9,732.2 604.9,740.0 L604.9,757.3 C604.9,763.7 595.0,766.5 580.2,766.5" transform="translate(0,0)" fill="none" stroke="#000" stroke-width="1.45" stroke-linecap="butt"/>
<text x="653.0" y="735.0" font-size="13.2" fill="#000" text-anchor="middle">-19</text>
<path d="M578.8,729.3 C593.5,729.3 603.3,731.2 603.3,735.6 L603.3,748.5 C603.3,752.1 613.4,753.3 628.5,753.3 C613.4,753.3 603.3,754.5 603.3,758.1 L603.3,771.0 C603.3,775.4 593.5,777.3 578.8,777.3" transform="translate(0,0)" fill="none" stroke="#000" stroke-width="1.45" stroke-linecap="butt"/>
<text x="653.0" y="758.5" font-size="13.2" fill="#000" text-anchor="middle">-13</text>
<line x1="80.4" x2="80.4" y1="820.7" y2="824.4000000000001" stroke="#333" stroke-width="1.45"/>
<text x="80.4" y="836.1" font-size="11.73" fill="#4d4d4d" text-anchor="middle">0</text>
<line x1="204.9" x2="204.9" y1="820.7" y2="824.4000000000001" stroke="#333" stroke-width="1.45"/>
<text x="204.9" y="836.1" font-size="11.73" fill="#4d4d4d" text-anchor="middle">0.25</text>
<line x1="329.5" x2="329.5" y1="820.7" y2="824.4000000000001" stroke="#333" stroke-width="1.45"/>
<text x="329.5" y="836.1" font-size="11.73" fill="#4d4d4d" text-anchor="middle">0.50</text>
<line x1="454.0" x2="454.0" y1="820.7" y2="824.4000000000001" stroke="#333" stroke-width="1.45"/>
<text x="454.0" y="836.1" font-size="11.73" fill="#4d4d4d" text-anchor="middle">0.75</text>
<line x1="578.6" x2="578.6" y1="820.7" y2="824.4000000000001" stroke="#333" stroke-width="1.45"/>
<text x="578.6" y="836.1" font-size="11.73" fill="#4d4d4d" text-anchor="middle">1.00</text>
<line x1="703.1" x2="703.1" y1="820.7" y2="824.4000000000001" stroke="#333" stroke-width="1.45"/>
<line x1="46.699999999999996" x2="50.4" y1="778.7" y2="778.7" stroke="#333" stroke-width="1.45"/>
<text x="43.3" y="782.9" font-size="11.73" fill="#4d4d4d" text-anchor="end">0</text>
<line x1="46.699999999999996" x2="50.4" y1="587.7" y2="587.7" stroke="#333" stroke-width="1.45"/>
<text x="43.3" y="591.9" font-size="11.73" fill="#4d4d4d" text-anchor="end">50</text>
<line x1="46.699999999999996" x2="50.4" y1="396.6" y2="396.6" stroke="#333" stroke-width="1.45"/>
<text x="43.3" y="400.8" font-size="11.73" fill="#4d4d4d" text-anchor="end">100</text>
<line x1="46.699999999999996" x2="50.4" y1="205.6" y2="205.6" stroke="#333" stroke-width="1.45"/>
<text x="43.3" y="209.8" font-size="11.73" fill="#4d4d4d" text-anchor="end">150</text>
<text x="384.3" y="852.4" font-size="14.67" fill="#000" text-anchor="middle">Relative rank by SDI</text>
<text transform="translate(17.4,425.6) rotate(-90)" font-size="14.67" fill="#000" text-anchor="middle" textLength="318.3" lengthAdjust="spacing">Age-standardized Prevalence rate (per 100,000)</text>
<text x="50.3" y="20.2" font-size="19" fill="#000">A</text>
</g>
<g>
<rect x="770.4" y="30.6" width="667.9" height="790.1" fill="#ebebeb"/>
<line x1="862.7" x2="862.7" y1="30.6" y2="820.7" stroke="#fff" stroke-width="0.75"/>
<line x1="987.2" x2="987.2" y1="30.6" y2="820.7" stroke="#fff" stroke-width="0.75"/>
<line x1="1111.8" x2="1111.8" y1="30.6" y2="820.7" stroke="#fff" stroke-width="0.75"/>
<line x1="1236.3" x2="1236.3" y1="30.6" y2="820.7" stroke="#fff" stroke-width="0.75"/>
<line x1="1360.9" x2="1360.9" y1="30.6" y2="820.7" stroke="#fff" stroke-width="0.75"/>
<line x1="770.4" x2="1438.3" y1="670.1" y2="670.1" stroke="#fff" stroke-width="0.75"/>
<line x1="770.4" x2="1438.3" y1="452.8" y2="452.8" stroke="#fff" stroke-width="0.75"/>
<line x1="770.4" x2="1438.3" y1="235.5" y2="235.5" stroke="#fff" stroke-width="0.75"/>
<line x1="800.4" x2="800.4" y1="30.6" y2="820.7" stroke="#fff" stroke-width="1.45"/>
<line x1="924.9" x2="924.9" y1="30.6" y2="820.7" stroke="#fff" stroke-width="1.45"/>
<line x1="1049.5" x2="1049.5" y1="30.6" y2="820.7" stroke="#fff" stroke-width="1.45"/>
<line x1="1174.0" x2="1174.0" y1="30.6" y2="820.7" stroke="#fff" stroke-width="1.45"/>
<line x1="1298.6" x2="1298.6" y1="30.6" y2="820.7" stroke="#fff" stroke-width="1.45"/>
<line x1="1423.2" x2="1423.2" y1="30.6" y2="820.7" stroke="#fff" stroke-width="1.45"/>
<line x1="770.4" x2="1438.3" y1="778.7" y2="778.7" stroke="#fff" stroke-width="1.45"/>
<line x1="770.4" x2="1438.3" y1="561.4" y2="561.4" stroke="#fff" stroke-width="1.45"/>
<line x1="770.4" x2="1438.3" y1="344.2" y2="344.2" stroke="#fff" stroke-width="1.45"/>
<line x1="770.4" x2="1438.3" y1="126.9" y2="126.9" stroke="#fff" stroke-width="1.45"/>
<path d="M800.4,663.8 L812.9,666.5 L825.3,669.1 L837.8,671.8 L850.2,674.4 L862.7,677.0 L875.1,679.6 L887.6,682.2 L900.0,684.8 L912.5,687.3 L925.0,689.9 L937.4,692.4 L949.9,694.8 L962.3,697.3 L974.8,699.7 L987.2,702.1 L999.7,704.4 L1012.1,706.7 L1024.6,708.9 L1037.0,711.1 L1049.5,713.2 L1062.0,715.3 L1074.4,717.3 L1086.9,719.3 L1099.3,721.2 L1111.8,723.0 L1124.2,724.8 L1136.7,726.6 L1149.1,728.2 L1161.6,729.9 L1174.0,731.5 L1186.5,733.1 L1199.0,734.6 L1211.4,736.1 L1223.9,737.6 L1236.3,739.0 L1248.8,740.5 L1261.2,741.9 L1273.7,743.3 L1286.1,744.6 L1298.6,746.0 L1298.6,782.0 L1286.1,779.4 L1273.7,776.8 L1261.2,774.2 L1248.8,771.6 L1236.3,769.0 L1223.9,766.5 L1211.4,764.0 L1199.0,761.5 L1186.5,759.1 L1174.0,756.7 L1161.6,754.3 L1149.1,751.9 L1136.7,749.6 L1124.2,747.4 L1111.8,745.2 L1099.3,743.0 L1086.9,741.0 L1074.4,738.9 L1062.0,737.0 L1049.5,735.1 L1037.0,733.2 L1024.6,731.4 L1012.1,729.7 L999.7,728.0 L987.2,726.3 L974.8,724.7 L962.3,723.1 L949.9,721.6 L937.4,720.1 L925.0,718.6 L912.5,717.1 L900.0,715.7 L887.6,714.3 L875.1,712.9 L862.7,711.5 L850.2,710.1 L837.8,708.8 L825.3,707.5 L812.9,706.1 L800.4,704.8Z" fill="#1d4a9c" fill-opacity="0.09"/>
<path d="M800.4,713.8 L812.9,715.4 L825.3,717.0 L837.8,718.6 L850.2,720.2 L862.7,721.8 L875.1,723.4 L887.6,725.0 L900.0,726.5 L912.5,728.1 L925.0,729.7 L937.4,731.2 L949.9,732.7 L962.3,734.3 L974.8,735.8 L987.2,737.2 L999.7,738.7 L1012.1,740.2 L1024.6,741.6 L1037.0,743.0 L1049.5,744.4 L1062.0,745.8 L1074.4,747.1 L1086.9,748.5 L1099.3,749.8 L1111.8,751.0 L1124.2,752.3 L1136.7,753.5 L1149.1,754.7 L1161.6,755.9 L1174.0,757.1 L1186.5,758.3 L1199.0,759.4 L1211.4,760.5 L1223.9,761.6 L1236.3,762.7 L1248.8,763.8 L1261.2,764.9 L1273.7,766.0 L1286.1,767.0 L1298.6,768.1 L1298.6,784.1 L1286.1,782.5 L1273.7,780.9 L1261.2,779.4 L1248.8,777.8 L1236.3,776.3 L1223.9,774.7 L1211.4,773.2 L1199.0,771.7 L1186.5,770.2 L1174.0,768.7 L1161.6,767.2 L1149.1,765.8 L1136.7,764.4 L1124.2,762.9 L1111.8,761.6 L1099.3,760.2 L1086.9,758.9 L1074.4,757.5 L1062.0,756.3 L1049.5,755.0 L1037.0,753.7 L1024.6,752.5 L1012.1,751.3 L999.7,750.1 L987.2,749.0 L974.8,747.8 L962.3,746.7 L949.9,745.5 L937.4,744.4 L925.0,743.3 L912.5,742.3 L900.0,741.2 L887.6,740.1 L875.1,739.0 L862.7,738.0 L850.2,736.9 L837.8,735.9 L825.3,734.9 L812.9,733.8 L800.4,732.8Z" fill="#9c2a1a" fill-opacity="0.09"/>
<g>
<circle cx="1039.6" cy="706.0" r="8.96" fill="#a8452e" fill-opacity="0.92" stroke="#95261a" stroke-width="1.00"/>
<circle cx="967.0" cy="66.7" r="8.50" fill="#3d62ad" fill-opacity="0.92" stroke="#23479a" stroke-width="1.00"/>
<circle cx="1136.2" cy="757.5" r="8.09" fill="#3d62ad" fill-opacity="0.92" stroke="#23479a" stroke-width="1.00"/>
<circle cx="1241.9" cy="778.0" r="7.30" fill="#a8452e" fill-opacity="0.92" stroke="#95261a" stroke-width="1.00"/>
<circle cx="927.0" cy="777.9" r="4.78" fill="#a8452e" fill-opacity="0.92" stroke="#95261a" stroke-width="1.00"/>
<circle cx="952.9" cy="669.1" r="4.43" fill="#a8452e" fill-opacity="0.92" stroke="#95261a" stroke-width="1.00"/>
<circle cx="1072.3" cy="746.5" r="4.08" fill="#3d62ad" fill-opacity="0.92" stroke="#23479a" stroke-width="1.00"/>
<circle cx="1150.6" cy="777.3" r="3.87" fill="#a8452e" fill-opacity="0.92" stroke="#95261a" stroke-width="1.00"/>
<circle cx="841.5" cy="603.8" r="3.82" fill="#3d62ad" fill-opacity="0.92" stroke="#23479a" stroke-width="1.00"/>
<circle cx="897.2" cy="652.7" r="3.82" fill="#3d62ad" fill-opacity="0.92" stroke="#23479a" stroke-width="1.00"/>
<circle cx="850.0" cy="608.5" r="3.45" fill="#a8452e" fill-opacity="0.92" stroke="#95261a" stroke-width="1.00"/>
<circle cx="1216.2" cy="777.3" r="3.45" fill="#3d62ad" fill-opacity="0.92" stroke="#23479a" stroke-width="1.00"/>
<circle cx="1131.6" cy="778.0" r="3.24" fill="#a8452e" fill-opacity="0.92" stroke="#95261a" stroke-width="1.00"/>
<circle cx="836.7" cy="681.3" r="3.03" fill="#a8452e" fill-opacity="0.92" stroke="#95261a" stroke-width="1.00"/>
<circle cx="881.8" cy="764.8" r="3.03" fill="#3d62ad" fill-opacity="0.92" stroke="#23479a" stroke-width="1.00"/>
<circle cx="905.8" cy="733.0" r="3.03" fill="#a8452e" fill-opacity="0.92" stroke="#95261a" stroke-width="1.00"/>
<circle cx="1099.4" cy="777.9" r="3.03" fill="#a8452e" fill-opacity="0.92" stroke="#95261a" stroke-width="1.00"/>
<circle cx="811.2" cy="539.2" r="2.89" fill="#3d62ad" fill-opacity="0.92" stroke="#23479a" stroke-width="1.00"/>
<circle cx="1033.3" cy="732.9" r="2.89" fill="#3d62ad" fill-opacity="0.92" stroke="#23479a" stroke-width="1.00"/>
<circle cx="1233.4" cy="764.9" r="2.78" fill="#3d62ad" fill-opacity="0.92" stroke="#23479a" stroke-width="1.00"/>
<circle cx="1120.2" cy="754.6" r="2.69" fill="#a8452e" fill-opacity="0.92" stroke="#95261a" stroke-width="1.00"/>
<circle cx="1248.7" cy="709.3" r="2.69" fill="#3d62ad" fill-opacity="0.92" stroke="#23479a" stroke-width="1.00"/>
<circle cx="1292.4" cy="771.0" r="2.62" fill="#3d62ad" fill-opacity="0.92" stroke="#23479a" stroke-width="1.00"/>
<circle cx="1043.9" cy="655.5" r="2.60" fill="#3d62ad" fill-opacity="0.92" stroke="#23479a" stroke-width="1.00"/>
<circle cx="1056.7" cy="735.5" r="2.55" fill="#3d62ad" fill-opacity="0.92" stroke="#23479a" stroke-width="1.00"/>
<circle cx="866.5" cy="646.0" r="2.52" fill="#3d62ad" fill-opacity="0.92" stroke="#23479a" stroke-width="1.00"/>
<circle cx="1178.9" cy="772.5" r="2.50" fill="#a8452e" fill-opacity="0.92" stroke="#95261a" stroke-width="1.00"/>
<circle cx="1195.7" cy="655.5" r="2.48" fill="#3d62ad" fill-opacity="0.92" stroke="#23479a" stroke-width="1.00"/>
<circle cx="887.2" cy="606.2" r="2.34" fill="#a8452e" fill-opacity="0.92" stroke="#95261a" stroke-width="1.00"/>
<circle cx="826.8" cy="647.3" r="2.34" fill="#a8452e" fill-opacity="0.92" stroke="#95261a" stroke-width="1.00"/>
<circle cx="1203.1" cy="717.0" r="2.34" fill="#a8452e" fill-opacity="0.92" stroke="#95261a" stroke-width="1.00"/>
<circle cx="1195.5" cy="760.1" r="2.34" fill="#a8452e" fill-opacity="0.92" stroke="#95261a" stroke-width="1.00"/>
<circle cx="1290.8" cy="768.1" r="2.34" fill="#a8452e" fill-opacity="0.92" stroke="#95261a" stroke-width="1.00"/>
<circle cx="880.6" cy="760.1" r="2.20" fill="#a8452e" fill-opacity="0.92" stroke="#95261a" stroke-width="1.00"/>
<circle cx="868.4" cy="778.0" r="2.20" fill="#a8452e" fill-opacity="0.92" stroke="#95261a" stroke-width="1.00"/>
<circle cx="978.0" cy="681.0" r="2.20" fill="#a8452e" fill-opacity="0.92" stroke="#95261a" stroke-width="1.00"/>
<circle cx="896.8" cy="752.6" r="2.20" fill="#a8452e" fill-opacity="0.92" stroke="#95261a" stroke-width="1.00"/>
<circle cx="971.3" cy="769.6" r="2.20" fill="#a8452e" fill-opacity="0.92" stroke="#95261a" stroke-width="1.00"/>
<circle cx="1110.4" cy="768.1" r="2.20" fill="#a8452e" fill-opacity="0.92" stroke="#95261a" stroke-width="1.00"/>
<circle cx="1241.6" cy="759.0" r="2.06" fill="#3d62ad" fill-opacity="0.92" stroke="#23479a" stroke-width="1.00"/>
<circle cx="805.3" cy="709.3" r="1.99" fill="#a8452e" fill-opacity="0.92" stroke="#95261a" stroke-width="1.00"/>
<circle cx="821.2" cy="742.3" r="1.99" fill="#a8452e" fill-opacity="0.92" stroke="#95261a" stroke-width="1.00"/>
<circle cx="891.3" cy="715.6" r="1.99" fill="#a8452e" fill-opacity="0.92" stroke="#95261a" stroke-width="1.00"/>
<circle cx="985.2" cy="738.1" r="1.99" fill="#a8452e" fill-opacity="0.92" stroke="#95261a" stroke-width="1.00"/>
<circle cx="1162.1" cy="740.1" r="1.99" fill="#a8452e" fill-opacity="0.92" stroke="#95261a" stroke-width="1.00"/>
<circle cx="870.8" cy="533.2" r="1.97" fill="#3d62ad" fill-opacity="0.92" stroke="#23479a" stroke-width="1.00"/>
<circle cx="802.1" cy="574.1" r="1.97" fill="#a8452e" fill-opacity="0.92" stroke="#95261a" stroke-width="1.00"/>
<circle cx="830.5" cy="630.0" r="1.97" fill="#3d62ad" fill-opacity="0.92" stroke="#23479a" stroke-width="1.00"/>
<circle cx="1023.8" cy="604.6" r="1.90" fill="#3d62ad" fill-opacity="0.92" stroke="#23479a" stroke-width="1.00"/>
<circle cx="1203.6" cy="754.0" r="1.89" fill="#3d62ad" fill-opacity="0.92" stroke="#23479a" stroke-width="1.00"/>
<circle cx="1186.2" cy="772.5" r="1.89" fill="#a8452e" fill-opacity="0.92" stroke="#95261a" stroke-width="1.00"/>
<circle cx="872.8" cy="747.8" r="1.85" fill="#a8452e" fill-opacity="0.92" stroke="#95261a" stroke-width="1.00"/>
<circle cx="909.7" cy="726.9" r="1.85" fill="#3d62ad" fill-opacity="0.92" stroke="#23479a" stroke-width="1.00"/>
<circle cx="1169.4" cy="750.1" r="1.85" fill="#a8452e" fill-opacity="0.92" stroke="#95261a" stroke-width="1.00"/>
<circle cx="1190.6" cy="726.8" r="1.85" fill="#3d62ad" fill-opacity="0.92" stroke="#23479a" stroke-width="1.00"/>
<circle cx="808.3" cy="742.0" r="1.78" fill="#a8452e" fill-opacity="0.92" stroke="#95261a" stroke-width="1.00"/>
<circle cx="811.3" cy="748.8" r="1.78" fill="#a8452e" fill-opacity="0.92" stroke="#95261a" stroke-width="1.00"/>
<circle cx="853.3" cy="752.2" r="1.78" fill="#3d62ad" fill-opacity="0.92" stroke="#23479a" stroke-width="1.00"/>
<circle cx="981.7" cy="691.6" r="1.78" fill="#a8452e" fill-opacity="0.92" stroke="#95261a" stroke-width="1.00"/>
<circle cx="1172.6" cy="711.2" r="1.78" fill="#a8452e" fill-opacity="0.92" stroke="#95261a" stroke-width="1.00"/>
<circle cx="1267.8" cy="762.6" r="1.78" fill="#3d62ad" fill-opacity="0.92" stroke="#23479a" stroke-width="1.00"/>
<circle cx="1190.6" cy="769.1" r="1.67" fill="#a8452e" fill-opacity="0.92" stroke="#95261a" stroke-width="1.00"/>
<circle cx="1256.8" cy="778.0" r="1.67" fill="#3d62ad" fill-opacity="0.92" stroke="#23479a" stroke-width="1.00"/>
<circle cx="1271.1" cy="709.6" r="1.67" fill="#3d62ad" fill-opacity="0.92" stroke="#23479a" stroke-width="1.00"/>
<circle cx="816.3" cy="671.6" r="1.64" fill="#3d62ad" fill-opacity="0.92" stroke="#23479a" stroke-width="1.00"/>
<circle cx="823.9" cy="714.0" r="1.64" fill="#3d62ad" fill-opacity="0.92" stroke="#23479a" stroke-width="1.00"/>
<circle cx="856.6" cy="716.9" r="1.64" fill="#a8452e" fill-opacity="0.92" stroke="#95261a" stroke-width="1.00"/>
<circle cx="821.0" cy="728.9" r="1.64" fill="#3d62ad" fill-opacity="0.92" stroke="#23479a" stroke-width="1.00"/>
<circle cx="815.6" cy="744.6" r="1.64" fill="#a8452e" fill-opacity="0.92" stroke="#95261a" stroke-width="1.00"/>
<circle cx="875.9" cy="778.0" r="1.64" fill="#a8452e" fill-opacity="0.92" stroke="#95261a" stroke-width="1.00"/>
<circle cx="1092.4" cy="760.1" r="1.64" fill="#a8452e" fill-opacity="0.92" stroke="#95261a" stroke-width="1.00"/>
<circle cx="1226.3" cy="728.8" r="1.64" fill="#3d62ad" fill-opacity="0.92" stroke="#23479a" stroke-width="1.00"/>
<circle cx="801.1" cy="528.9" r="1.59" fill="#3d62ad" fill-opacity="0.92" stroke="#23479a" stroke-width="1.00"/>
<circle cx="802.6" cy="651.7" r="1.59" fill="#3d62ad" fill-opacity="0.92" stroke="#23479a" stroke-width="1.00"/>
<circle cx="817.9" cy="652.5" r="1.59" fill="#3d62ad" fill-opacity="0.92" stroke="#23479a" stroke-width="1.00"/>
<circle cx="817.7" cy="713.1" r="1.57" fill="#a8452e" fill-opacity="0.92" stroke="#95261a" stroke-width="1.00"/>
<circle cx="1050.3" cy="675.7" r="1.54" fill="#3d62ad" fill-opacity="0.92" stroke="#23479a" stroke-width="1.00"/>
<circle cx="844.0" cy="746.6" r="1.50" fill="#a8452e" fill-opacity="0.92" stroke="#95261a" stroke-width="1.00"/>
<circle cx="859.3" cy="736.2" r="1.50" fill="#3d62ad" fill-opacity="0.92" stroke="#23479a" stroke-width="1.00"/>
<circle cx="894.2" cy="767.4" r="1.50" fill="#a8452e" fill-opacity="0.92" stroke="#95261a" stroke-width="1.00"/>
<circle cx="966.2" cy="746.4" r="1.50" fill="#a8452e" fill-opacity="0.92" stroke="#95261a" stroke-width="1.00"/>
<circle cx="1027.4" cy="708.9" r="1.50" fill="#3d62ad" fill-opacity="0.92" stroke="#23479a" stroke-width="1.00"/>
<circle cx="1139.8" cy="759.1" r="1.50" fill="#a8452e" fill-opacity="0.92" stroke="#95261a" stroke-width="1.00"/>
<circle cx="1114.5" cy="778.0" r="1.50" fill="#a8452e" fill-opacity="0.92" stroke="#95261a" stroke-width="1.00"/>
<circle cx="1260.1" cy="716.6" r="1.50" fill="#3d62ad" fill-opacity="0.92" stroke="#23479a" stroke-width="1.00"/>
<circle cx="1206.5" cy="775.1" r="1.50" fill="#3d62ad" fill-opacity="0.92" stroke="#23479a" stroke-width="1.00"/>
<circle cx="1199.4" cy="778.0" r="1.50" fill="#a8452e" fill-opacity="0.92" stroke="#95261a" stroke-width="1.00"/>
<circle cx="1274.6" cy="747.8" r="1.50" fill="#3d62ad" fill-opacity="0.92" stroke="#23479a" stroke-width="1.00"/>
<circle cx="1284.6" cy="748.8" r="1.50" fill="#a8452e" fill-opacity="0.92" stroke="#95261a" stroke-width="1.00"/>
<circle cx="1283.8" cy="752.5" r="1.50" fill="#3d62ad" fill-opacity="0.92" stroke="#23479a" stroke-width="1.00"/>
<circle cx="1263.4" cy="759.4" r="1.50" fill="#3d62ad" fill-opacity="0.92" stroke="#23479a" stroke-width="1.00"/>
<circle cx="826.0" cy="705.7" r="1.47" fill="#3d62ad" fill-opacity="0.92" stroke="#23479a" stroke-width="1.00"/>
<circle cx="824.0" cy="722.4" r="1.47" fill="#a8452e" fill-opacity="0.92" stroke="#95261a" stroke-width="1.00"/>
<circle cx="859.3" cy="722.4" r="1.47" fill="#a8452e" fill-opacity="0.92" stroke="#95261a" stroke-width="1.00"/>
<circle cx="906.7" cy="749.7" r="1.43" fill="#3d62ad" fill-opacity="0.92" stroke="#23479a" stroke-width="1.00"/>
<circle cx="974.1" cy="753.3" r="1.43" fill="#a8452e" fill-opacity="0.92" stroke="#95261a" stroke-width="1.00"/>
<circle cx="987.7" cy="775.8" r="1.43" fill="#a8452e" fill-opacity="0.92" stroke="#95261a" stroke-width="1.00"/>
<circle cx="1280.3" cy="740.1" r="1.39" fill="#a8452e" fill-opacity="0.92" stroke="#95261a" stroke-width="1.00"/>
<circle cx="1282.4" cy="767.0" r="1.39" fill="#a8452e" fill-opacity="0.92" stroke="#95261a" stroke-width="1.00"/>
<circle cx="857.5" cy="684.7" r="1.30" fill="#3d62ad" fill-opacity="0.92" stroke="#23479a" stroke-width="0.98"/>
<circle cx="850.5" cy="715.6" r="1.30" fill="#3d62ad" fill-opacity="0.92" stroke="#23479a" stroke-width="0.98"/>
<circle cx="804.8" cy="730.7" r="1.30" fill="#3d62ad" fill-opacity="0.92" stroke="#23479a" stroke-width="0.98"/>
<circle cx="813.3" cy="732.1" r="1.30" fill="#a8452e" fill-opacity="0.92" stroke="#95261a" stroke-width="0.98"/>
<circle cx="830.1" cy="737.4" r="1.30" fill="#a8452e" fill-opacity="0.92" stroke="#95261a" stroke-width="0.98"/>
<circle cx="862.5" cy="737.6" r="1.30" fill="#a8452e" fill-opacity="0.92" stroke="#95261a" stroke-width="0.98"/>
<circle cx="873.3" cy="750.7" r="1.30" fill="#3d62ad" fill-opacity="0.92" stroke="#23479a" stroke-width="0.98"/>
<circle cx="899.1" cy="778.0" r="1.30" fill="#a8452e" fill-opacity="0.92" stroke="#95261a" stroke-width="0.98"/>
<circle cx="1039.1" cy="691.5" r="1.30" fill="#3d62ad" fill-opacity="0.92" stroke="#23479a" stroke-width="0.98"/>
<circle cx="1164.5" cy="778.0" r="1.30" fill="#a8452e" fill-opacity="0.92" stroke="#95261a" stroke-width="0.98"/>
<circle cx="1167.3" cy="778.0" r="1.30" fill="#a8452e" fill-opacity="0.92" stroke="#95261a" stroke-width="0.98"/>
<circle cx="818.8" cy="632.4" r="1.25" fill="#a8452e" fill-opacity="0.92" stroke="#95261a" stroke-width="0.95"/>
<circle cx="803.7" cy="694.5" r="1.25" fill="#3d62ad" fill-opacity="0.92" stroke="#23479a" stroke-width="0.95"/>
<circle cx="1188.7" cy="754.6" r="1.25" fill="#a8452e" fill-opacity="0.92" stroke="#95261a" stroke-width="0.95"/>
<circle cx="1297.2" cy="767.7" r="1.25" fill="#a8452e" fill-opacity="0.92" stroke="#95261a" stroke-width="0.95"/>
<circle cx="1253.7" cy="773.6" r="1.25" fill="#3d62ad" fill-opacity="0.92" stroke="#23479a" stroke-width="0.95"/>
<circle cx="828.0" cy="740.6" r="1.20" fill="#23479a" fill-opacity="1" stroke="#23479a" stroke-width="0.91"/>
<circle cx="861.2" cy="756.5" r="1.20" fill="#95261a" fill-opacity="1" stroke="#95261a" stroke-width="0.91"/>
<circle cx="884.6" cy="741.0" r="1.20" fill="#95261a" fill-opacity="1" stroke="#95261a" stroke-width="0.91"/>
<circle cx="1192.3" cy="778.2" r="1.17" fill="#95261a" fill-opacity="1" stroke="#95261a" stroke-width="0.89"/>
<circle cx="1285.7" cy="751.7" r="1.17" fill="#95261a" fill-opacity="1" stroke="#95261a" stroke-width="0.89"/>
<circle cx="1277.3" cy="768.9" r="1.17" fill="#23479a" fill-opacity="1" stroke="#23479a" stroke-width="0.89"/>
<circle cx="1281.0" cy="713.1" r="1.17" fill="#95261a" fill-opacity="1" stroke="#95261a" stroke-width="0.89"/>
<circle cx="827.1" cy="665.4" r="1.15" fill="#23479a" fill-opacity="1" stroke="#23479a" stroke-width="0.87"/>
<circle cx="819.1" cy="676.3" r="1.15" fill="#23479a" fill-opacity="1" stroke="#23479a" stroke-width="0.87"/>
<circle cx="806.5" cy="726.3" r="1.15" fill="#23479a" fill-opacity="1" stroke="#23479a" stroke-width="0.87"/>
<circle cx="863.9" cy="726.3" r="1.15" fill="#95261a" fill-opacity="1" stroke="#95261a" stroke-width="0.87"/>
<circle cx="874.5" cy="732.1" r="1.15" fill="#23479a" fill-opacity="1" stroke="#23479a" stroke-width="0.87"/>
<circle cx="829.0" cy="751.1" r="1.15" fill="#95261a" fill-opacity="1" stroke="#95261a" stroke-width="0.87"/>
<circle cx="855.6" cy="745.2" r="1.15" fill="#23479a" fill-opacity="1" stroke="#23479a" stroke-width="0.87"/>
<circle cx="865.3" cy="775.4" r="1.15" fill="#95261a" fill-opacity="1" stroke="#95261a" stroke-width="0.87"/>
<circle cx="912.5" cy="727.8" r="1.15" fill="#95261a" fill-opacity="1" stroke="#95261a" stroke-width="0.87"/>
<circle cx="912.5" cy="740.6" r="1.15" fill="#23479a" fill-opacity="1" stroke="#23479a" stroke-width="0.87"/>
<circle cx="968.6" cy="745.3" r="1.15" fill="#95261a" fill-opacity="1" stroke="#95261a" stroke-width="0.87"/>
<circle cx="975.1" cy="743.7" r="1.15" fill="#95261a" fill-opacity="1" stroke="#95261a" stroke-width="0.87"/>
<circle cx="1021.8" cy="743.5" r="1.15" fill="#23479a" fill-opacity="1" stroke="#23479a" stroke-width="0.87"/>
<circle cx="1025.8" cy="742.7" r="1.15" fill="#23479a" fill-opacity="1" stroke="#23479a" stroke-width="0.87"/>
<circle cx="1052.1" cy="751.7" r="1.15" fill="#23479a" fill-opacity="1" stroke="#23479a" stroke-width="0.87"/>
<circle cx="1106.4" cy="702.1" r="1.15" fill="#95261a" fill-opacity="1" stroke="#95261a" stroke-width="0.87"/>
<circle cx="832.4" cy="637.4" r="1.12" fill="#23479a" fill-opacity="1" stroke="#23479a" stroke-width="0.85"/>
<circle cx="828.9" cy="728.5" r="1.04" fill="#23479a" fill-opacity="1" stroke="#23479a" stroke-width="0.79"/>
<circle cx="889.0" cy="730.2" r="1.04" fill="#23479a" fill-opacity="1" stroke="#23479a" stroke-width="0.79"/>
<circle cx="833.2" cy="737.9" r="1.04" fill="#23479a" fill-opacity="1" stroke="#23479a" stroke-width="0.79"/>
<circle cx="831.8" cy="746.4" r="1.04" fill="#23479a" fill-opacity="1" stroke="#23479a" stroke-width="0.79"/>
<circle cx="905.7" cy="772.9" r="1.04" fill="#23479a" fill-opacity="1" stroke="#23479a" stroke-width="0.79"/>
<circle cx="983.3" cy="753.3" r="1.04" fill="#95261a" fill-opacity="1" stroke="#95261a" stroke-width="0.79"/>
<circle cx="1049.2" cy="742.4" r="1.04" fill="#23479a" fill-opacity="1" stroke="#23479a" stroke-width="0.79"/>
<circle cx="1105.1" cy="764.2" r="1.04" fill="#95261a" fill-opacity="1" stroke="#95261a" stroke-width="0.79"/>
<circle cx="1093.7" cy="773.9" r="1.04" fill="#95261a" fill-opacity="1" stroke="#95261a" stroke-width="0.79"/>
<circle cx="1261.3" cy="725.6" r="1.04" fill="#23479a" fill-opacity="1" stroke="#23479a" stroke-width="0.79"/>
<circle cx="1199.5" cy="739.1" r="1.04" fill="#23479a" fill-opacity="1" stroke="#23479a" stroke-width="0.79"/>
<circle cx="1201.5" cy="738.7" r="1.04" fill="#23479a" fill-opacity="1" stroke="#23479a" stroke-width="0.79"/>
<circle cx="1200.5" cy="770.3" r="1.04" fill="#23479a" fill-opacity="1" stroke="#23479a" stroke-width="0.79"/>
<circle cx="1265.2" cy="732.1" r="1.04" fill="#23479a" fill-opacity="1" stroke="#23479a" stroke-width="0.79"/>
<circle cx="1275.2" cy="758.7" r="1.04" fill="#23479a" fill-opacity="1" stroke="#23479a" stroke-width="0.79"/>
<circle cx="1257.9" cy="773.9" r="1.04" fill="#23479a" fill-opacity="1" stroke="#23479a" stroke-width="0.79"/>
<circle cx="1279.1" cy="778.3" r="1.04" fill="#95261a" fill-opacity="1" stroke="#95261a" stroke-width="0.79"/>
<circle cx="1021.4" cy="651.0" r="0.97" fill="#23479a" fill-opacity="1" stroke="#23479a" stroke-width="0.74"/>
<circle cx="1262.2" cy="754.0" r="0.96" fill="#23479a" fill-opacity="1" stroke="#23479a" stroke-width="0.73"/>
<circle cx="829.6" cy="713.7" r="0.94" fill="#95261a" fill-opacity="1" stroke="#95261a" stroke-width="0.72"/>
<circle cx="1028.8" cy="727.2" r="0.94" fill="#23479a" fill-opacity="1" stroke="#23479a" stroke-width="0.72"/>
<circle cx="1114.5" cy="748.2" r="0.94" fill="#95261a" fill-opacity="1" stroke="#95261a" stroke-width="0.72"/>
<circle cx="1105.0" cy="758.7" r="0.94" fill="#95261a" fill-opacity="1" stroke="#95261a" stroke-width="0.72"/>
<circle cx="1091.2" cy="777.3" r="0.94" fill="#95261a" fill-opacity="1" stroke="#95261a" stroke-width="0.72"/>
<circle cx="1264.9" cy="727.8" r="0.94" fill="#23479a" fill-opacity="1" stroke="#23479a" stroke-width="0.72"/>
<circle cx="1298.7" cy="769.8" r="0.94" fill="#23479a" fill-opacity="1" stroke="#23479a" stroke-width="0.72"/>
<circle cx="1298.5" cy="774.7" r="0.94" fill="#95261a" fill-opacity="1" stroke="#95261a" stroke-width="0.72"/>
<circle cx="862.8" cy="722.7" r="0.92" fill="#23479a" fill-opacity="1" stroke="#23479a" stroke-width="0.70"/>
<circle cx="864.4" cy="717.3" r="0.89" fill="#95261a" fill-opacity="1" stroke="#95261a" stroke-width="0.68"/>
<circle cx="849.6" cy="747.8" r="0.89" fill="#23479a" fill-opacity="1" stroke="#23479a" stroke-width="0.68"/>
<circle cx="877.1" cy="770.3" r="0.89" fill="#95261a" fill-opacity="1" stroke="#95261a" stroke-width="0.68"/>
<circle cx="1060.8" cy="745.2" r="0.89" fill="#23479a" fill-opacity="1" stroke="#23479a" stroke-width="0.68"/>
<circle cx="1047.9" cy="765.2" r="0.89" fill="#23479a" fill-opacity="1" stroke="#23479a" stroke-width="0.68"/>
<circle cx="1048.6" cy="772.8" r="0.89" fill="#23479a" fill-opacity="1" stroke="#23479a" stroke-width="0.68"/>
<circle cx="1160.2" cy="752.6" r="0.89" fill="#95261a" fill-opacity="1" stroke="#95261a" stroke-width="0.68"/>
<circle cx="1200.1" cy="732.3" r="0.89" fill="#23479a" fill-opacity="1" stroke="#23479a" stroke-width="0.68"/>
<circle cx="1298.7" cy="771.8" r="0.87" fill="#23479a" fill-opacity="1" stroke="#23479a" stroke-width="0.66"/>
<circle cx="855.9" cy="646.2" r="0.84" fill="#23479a" fill-opacity="1" stroke="#23479a" stroke-width="0.64"/>
<circle cx="1188.8" cy="741.3" r="0.84" fill="#23479a" fill-opacity="1" stroke="#23479a" stroke-width="0.64"/>
<circle cx="1183.9" cy="763.5" r="0.84" fill="#95261a" fill-opacity="1" stroke="#95261a" stroke-width="0.64"/>
<circle cx="1191.9" cy="763.8" r="0.84" fill="#95261a" fill-opacity="1" stroke="#95261a" stroke-width="0.64"/>
<circle cx="1200.1" cy="767.4" r="0.84" fill="#95261a" fill-opacity="1" stroke="#95261a" stroke-width="0.64"/>
<circle cx="1183.9" cy="778.0" r="0.84" fill="#95261a" fill-opacity="1" stroke="#95261a" stroke-width="0.64"/>
<circle cx="1205.7" cy="778.0" r="0.84" fill="#95261a" fill-opacity="1" stroke="#95261a" stroke-width="0.64"/>
<circle cx="1286.2" cy="768.1" r="0.84" fill="#23479a" fill-opacity="1" stroke="#23479a" stroke-width="0.64"/>
<circle cx="1279.1" cy="774.7" r="0.84" fill="#95261a" fill-opacity="1" stroke="#95261a" stroke-width="0.64"/>
<circle cx="1297.7" cy="773.5" r="0.84" fill="#95261a" fill-opacity="1" stroke="#95261a" stroke-width="0.64"/>
<circle cx="828.3" cy="687.6" r="0.83" fill="#23479a" fill-opacity="1" stroke="#23479a" stroke-width="0.63"/>
<circle cx="856.2" cy="690.5" r="0.83" fill="#23479a" fill-opacity="1" stroke="#23479a" stroke-width="0.63"/>
<circle cx="812.3" cy="684.8" r="0.83" fill="#23479a" fill-opacity="1" stroke="#23479a" stroke-width="0.63"/>
<circle cx="851.1" cy="706.9" r="0.83" fill="#23479a" fill-opacity="1" stroke="#23479a" stroke-width="0.63"/>
<circle cx="856.6" cy="755.8" r="0.83" fill="#23479a" fill-opacity="1" stroke="#23479a" stroke-width="0.63"/>
<circle cx="888.3" cy="742.3" r="0.83" fill="#23479a" fill-opacity="1" stroke="#23479a" stroke-width="0.63"/>
<circle cx="872.4" cy="774.7" r="0.83" fill="#23479a" fill-opacity="1" stroke="#23479a" stroke-width="0.63"/>
<circle cx="898.7" cy="713.3" r="0.83" fill="#95261a" fill-opacity="1" stroke="#95261a" stroke-width="0.63"/>
<circle cx="894.9" cy="760.9" r="0.83" fill="#95261a" fill-opacity="1" stroke="#95261a" stroke-width="0.63"/>
<circle cx="893.4" cy="778.0" r="0.83" fill="#95261a" fill-opacity="1" stroke="#95261a" stroke-width="0.63"/>
<circle cx="967.4" cy="722.8" r="0.83" fill="#95261a" fill-opacity="1" stroke="#95261a" stroke-width="0.63"/>
<circle cx="965.0" cy="750.7" r="0.83" fill="#95261a" fill-opacity="1" stroke="#95261a" stroke-width="0.63"/>
<circle cx="969.1" cy="774.9" r="0.83" fill="#95261a" fill-opacity="1" stroke="#95261a" stroke-width="0.63"/>
<circle cx="969.1" cy="778.0" r="0.83" fill="#95261a" fill-opacity="1" stroke="#95261a" stroke-width="0.63"/>
<circle cx="1048.6" cy="697.4" r="0.83" fill="#23479a" fill-opacity="1" stroke="#23479a" stroke-width="0.63"/>
<circle cx="1021.1" cy="703.5" r="0.83" fill="#23479a" fill-opacity="1" stroke="#23479a" stroke-width="0.63"/>
<circle cx="1021.3" cy="706.7" r="0.83" fill="#23479a" fill-opacity="1" stroke="#23479a" stroke-width="0.63"/>
<circle cx="1028.4" cy="748.2" r="0.83" fill="#23479a" fill-opacity="1" stroke="#23479a" stroke-width="0.63"/>
<circle cx="1022.2" cy="763.0" r="0.83" fill="#23479a" fill-opacity="1" stroke="#23479a" stroke-width="0.63"/>
<circle cx="1048.3" cy="769.1" r="0.83" fill="#23479a" fill-opacity="1" stroke="#23479a" stroke-width="0.63"/>
<circle cx="1051.4" cy="773.5" r="0.83" fill="#23479a" fill-opacity="1" stroke="#23479a" stroke-width="0.63"/>
<circle cx="1028.9" cy="772.5" r="0.83" fill="#23479a" fill-opacity="1" stroke="#23479a" stroke-width="0.63"/>
<circle cx="1037.5" cy="772.8" r="0.83" fill="#23479a" fill-opacity="1" stroke="#23479a" stroke-width="0.63"/>
<circle cx="1115.4" cy="759.1" r="0.83" fill="#95261a" fill-opacity="1" stroke="#95261a" stroke-width="0.63"/>
<circle cx="1114.7" cy="767.1" r="0.83" fill="#95261a" fill-opacity="1" stroke="#95261a" stroke-width="0.63"/>
<circle cx="1104.6" cy="772.8" r="0.83" fill="#95261a" fill-opacity="1" stroke="#95261a" stroke-width="0.63"/>
<circle cx="1090.9" cy="778.9" r="0.83" fill="#95261a" fill-opacity="1" stroke="#95261a" stroke-width="0.63"/>
<circle cx="1106.9" cy="776.1" r="0.83" fill="#95261a" fill-opacity="1" stroke="#95261a" stroke-width="0.63"/>
<circle cx="1106.9" cy="778.7" r="0.83" fill="#95261a" fill-opacity="1" stroke="#95261a" stroke-width="0.63"/>
<circle cx="1201.8" cy="753.0" r="0.83" fill="#23479a" fill-opacity="1" stroke="#23479a" stroke-width="0.63"/>
<circle cx="1227.7" cy="757.7" r="0.83" fill="#23479a" fill-opacity="1" stroke="#23479a" stroke-width="0.63"/>
<circle cx="1205.7" cy="767.8" r="0.83" fill="#23479a" fill-opacity="1" stroke="#23479a" stroke-width="0.63"/>
<circle cx="1183.9" cy="768.1" r="0.83" fill="#95261a" fill-opacity="1" stroke="#95261a" stroke-width="0.63"/>
<circle cx="1199.1" cy="774.0" r="0.83" fill="#23479a" fill-opacity="1" stroke="#23479a" stroke-width="0.63"/>
<circle cx="1192.0" cy="776.8" r="0.83" fill="#95261a" fill-opacity="1" stroke="#95261a" stroke-width="0.63"/>
<circle cx="1273.6" cy="744.9" r="0.83" fill="#23479a" fill-opacity="1" stroke="#23479a" stroke-width="0.63"/>
<circle cx="1277.8" cy="754.3" r="0.83" fill="#23479a" fill-opacity="1" stroke="#23479a" stroke-width="0.63"/>
<circle cx="1273.2" cy="754.6" r="0.83" fill="#23479a" fill-opacity="1" stroke="#23479a" stroke-width="0.63"/>
<circle cx="1270.1" cy="757.0" r="0.83" fill="#23479a" fill-opacity="1" stroke="#23479a" stroke-width="0.63"/>
<circle cx="1278.2" cy="760.7" r="0.83" fill="#95261a" fill-opacity="1" stroke="#95261a" stroke-width="0.63"/>
<circle cx="1286.0" cy="759.9" r="0.83" fill="#23479a" fill-opacity="1" stroke="#23479a" stroke-width="0.63"/>
<circle cx="1276.8" cy="763.8" r="0.83" fill="#23479a" fill-opacity="1" stroke="#23479a" stroke-width="0.63"/>
<circle cx="1283.5" cy="772.0" r="0.83" fill="#95261a" fill-opacity="1" stroke="#95261a" stroke-width="0.63"/>
<circle cx="1262.1" cy="774.7" r="0.83" fill="#23479a" fill-opacity="1" stroke="#23479a" stroke-width="0.63"/>
<circle cx="1264.6" cy="775.4" r="0.83" fill="#23479a" fill-opacity="1" stroke="#23479a" stroke-width="0.63"/>
<circle cx="1273.5" cy="775.7" r="0.83" fill="#23479a" fill-opacity="1" stroke="#23479a" stroke-width="0.63"/>
<circle cx="1276.5" cy="774.7" r="0.83" fill="#23479a" fill-opacity="1" stroke="#23479a" stroke-width="0.63"/>
<circle cx="1286.6" cy="773.5" r="0.83" fill="#23479a" fill-opacity="1" stroke="#23479a" stroke-width="0.63"/>
<circle cx="1281.5" cy="778.4" r="0.83" fill="#95261a" fill-opacity="1" stroke="#95261a" stroke-width="0.63"/>
<circle cx="1284.0" cy="778.3" r="0.83" fill="#95261a" fill-opacity="1" stroke="#95261a" stroke-width="0.63"/>
<circle cx="1286.5" cy="778.0" r="0.83" fill="#95261a" fill-opacity="1" stroke="#95261a" stroke-width="0.63"/>
<circle cx="1289.2" cy="778.4" r="0.83" fill="#95261a" fill-opacity="1" stroke="#95261a" stroke-width="0.63"/>
<circle cx="1291.8" cy="778.4" r="0.83" fill="#95261a" fill-opacity="1" stroke="#95261a" stroke-width="0.63"/>
<circle cx="1294.3" cy="778.0" r="0.83" fill="#95261a" fill-opacity="1" stroke="#95261a" stroke-width="0.63"/>
<circle cx="1296.6" cy="778.4" r="0.83" fill="#95261a" fill-opacity="1" stroke="#95261a" stroke-width="0.63"/>
<circle cx="1263.2" cy="763.5" r="0.72" fill="#23479a" fill-opacity="1" stroke="#23479a" stroke-width="0.55"/>
<circle cx="1286.0" cy="771.0" r="0.72" fill="#95261a" fill-opacity="1" stroke="#95261a" stroke-width="0.55"/>
</g>
<line x1="800.4" x2="1293.8" y1="684.3" y2="684.3" stroke="#1d4a9c" stroke-width="1.6" stroke-dasharray="5 4.264"/>
<line x1="800.4" x2="1293.8" y1="723.3" y2="723.3" stroke="#9c2a1a" stroke-width="1.6" stroke-dasharray="5 4.264"/>
<line x1="800.4" x2="1298.6" y1="684.3" y2="764.0" stroke="#1d4a9c" stroke-width="2.1"/>
<line x1="800.4" x2="1298.6" y1="723.3" y2="776.1" stroke="#9c2a1a" stroke-width="2.1"/>
<path d="M580.2,684.3 C595.1,684.3 605.1,687.3 605.1,694.3 L605.1,712.9 C605.1,721.4 615.1,724.15 630.2,724.15 C615.1,724.15 605.1,726.9 605.1,735.4 L605.1,754.0 C605.1,761.0 595.1,764.0 580.2,764.0" transform="translate(720,0)" fill="none" stroke="#000" stroke-width="1.45" stroke-linecap="butt"/>
<text x="1372.8" y="729.6" font-size="13.2" fill="#000" text-anchor="middle">-4</text>
<path d="M578.8,723.3 C593.6,723.3 603.4,725.4 603.4,730.2 L603.4,744.5 C603.4,748.4 613.4,749.7 628.5,749.7 C613.4,749.7 603.4,751.0 603.4,754.9 L603.4,769.2 C603.4,774.0 593.6,776.1 578.8,776.1" transform="translate(720,0)" fill="none" stroke="#000" stroke-width="1.45" stroke-linecap="butt"/>
<text x="1372.8" y="755.0" font-size="13.2" fill="#000" text-anchor="middle">-2</text>
<line x1="800.4" x2="800.4" y1="820.7" y2="824.4000000000001" stroke="#333" stroke-width="1.45"/>
<text x="800.4" y="836.1" font-size="11.73" fill="#4d4d4d" text-anchor="middle">0</text>
<line x1="924.9" x2="924.9" y1="820.7" y2="824.4000000000001" stroke="#333" stroke-width="1.45"/>
<text x="924.9" y="836.1" font-size="11.73" fill="#4d4d4d" text-anchor="middle">0.25</text>
<line x1="1049.5" x2="1049.5" y1="820.7" y2="824.4000000000001" stroke="#333" stroke-width="1.45"/>
<text x="1049.5" y="836.1" font-size="11.73" fill="#4d4d4d" text-anchor="middle">0.50</text>
<line x1="1174.0" x2="1174.0" y1="820.7" y2="824.4000000000001" stroke="#333" stroke-width="1.45"/>
<text x="1174.0" y="836.1" font-size="11.73" fill="#4d4d4d" text-anchor="middle">0.75</text>
<line x1="1298.6" x2="1298.6" y1="820.7" y2="824.4000000000001" stroke="#333" stroke-width="1.45"/>
<text x="1298.6" y="836.1" font-size="11.73" fill="#4d4d4d" text-anchor="middle">1.00</text>
<line x1="1423.2" x2="1423.2" y1="820.7" y2="824.4000000000001" stroke="#333" stroke-width="1.45"/>
<line x1="766.6999999999999" x2="770.4" y1="778.7" y2="778.7" stroke="#333" stroke-width="1.45"/>
<text x="763.3" y="782.9" font-size="11.73" fill="#4d4d4d" text-anchor="end">0</text>
<line x1="766.6999999999999" x2="770.4" y1="561.4" y2="561.4" stroke="#333" stroke-width="1.45"/>
<text x="763.3" y="565.6" font-size="11.73" fill="#4d4d4d" text-anchor="end">10</text>
<line x1="766.6999999999999" x2="770.4" y1="344.2" y2="344.2" stroke="#333" stroke-width="1.45"/>
<text x="763.3" y="348.4" font-size="11.73" fill="#4d4d4d" text-anchor="end">20</text>
<line x1="766.6999999999999" x2="770.4" y1="126.9" y2="126.9" stroke="#333" stroke-width="1.45"/>
<text x="763.3" y="131.1" font-size="11.73" fill="#4d4d4d" text-anchor="end">30</text>
<text x="1104.3" y="852.4" font-size="14.67" fill="#000" text-anchor="middle">Relative rank by SDI</text>
<text transform="translate(743.6,425.6) rotate(-90)" font-size="14.67" fill="#000" text-anchor="middle" textLength="272.6" lengthAdjust="spacing">Age-standardized YLD rate (per 100,000)</text>
<text x="770.3" y="20.2" font-size="19" fill="#000">B</text>
</g>
<g>
<text x="1460.9" y="358.6" font-size="14.67" fill="#000">Population</text>
<text x="1460.9" y="374.5" font-size="14.67" fill="#000">*1e+06</text>
<rect x="1460.7" y="384.0" width="23.1" height="23.1" fill="#f2f2f2"/>
<circle cx="1472.4" cy="395.6" r="7.1" fill="none" stroke="#333" stroke-width="1.1"/>
<text x="1491.7" y="399.9" font-size="11.45" fill="#000">200</text>
<text x="1460.9" y="449.1" font-size="14.67" fill="#000">group</text>
<rect x="1460.7" y="458.0" width="23.1" height="23.3" fill="#dfe3ed"/>
<rect x="1460.7" y="481.3" width="23.1" height="23.1" fill="#eddfdd"/>
<line x1="1463.1" x2="1481.6" y1="469.5" y2="469.5" stroke="#1d4a9c" stroke-width="2"/>
<circle cx="1472.3" cy="469.5" r="2.9" fill="#1d4a9c"/>
<line x1="1463.1" x2="1481.6" y1="493.1" y2="493.1" stroke="#9c2a1a" stroke-width="2"/>
<circle cx="1472.3" cy="493.1" r="2.9" fill="#9c2a1a"/>
<text x="1492.2" y="473.6" font-size="11.45" fill="#000">1990</text>
<text x="1492.2" y="497.2" font-size="11.45" fill="#000">2021</text>
</g>
</svg></body></html>
